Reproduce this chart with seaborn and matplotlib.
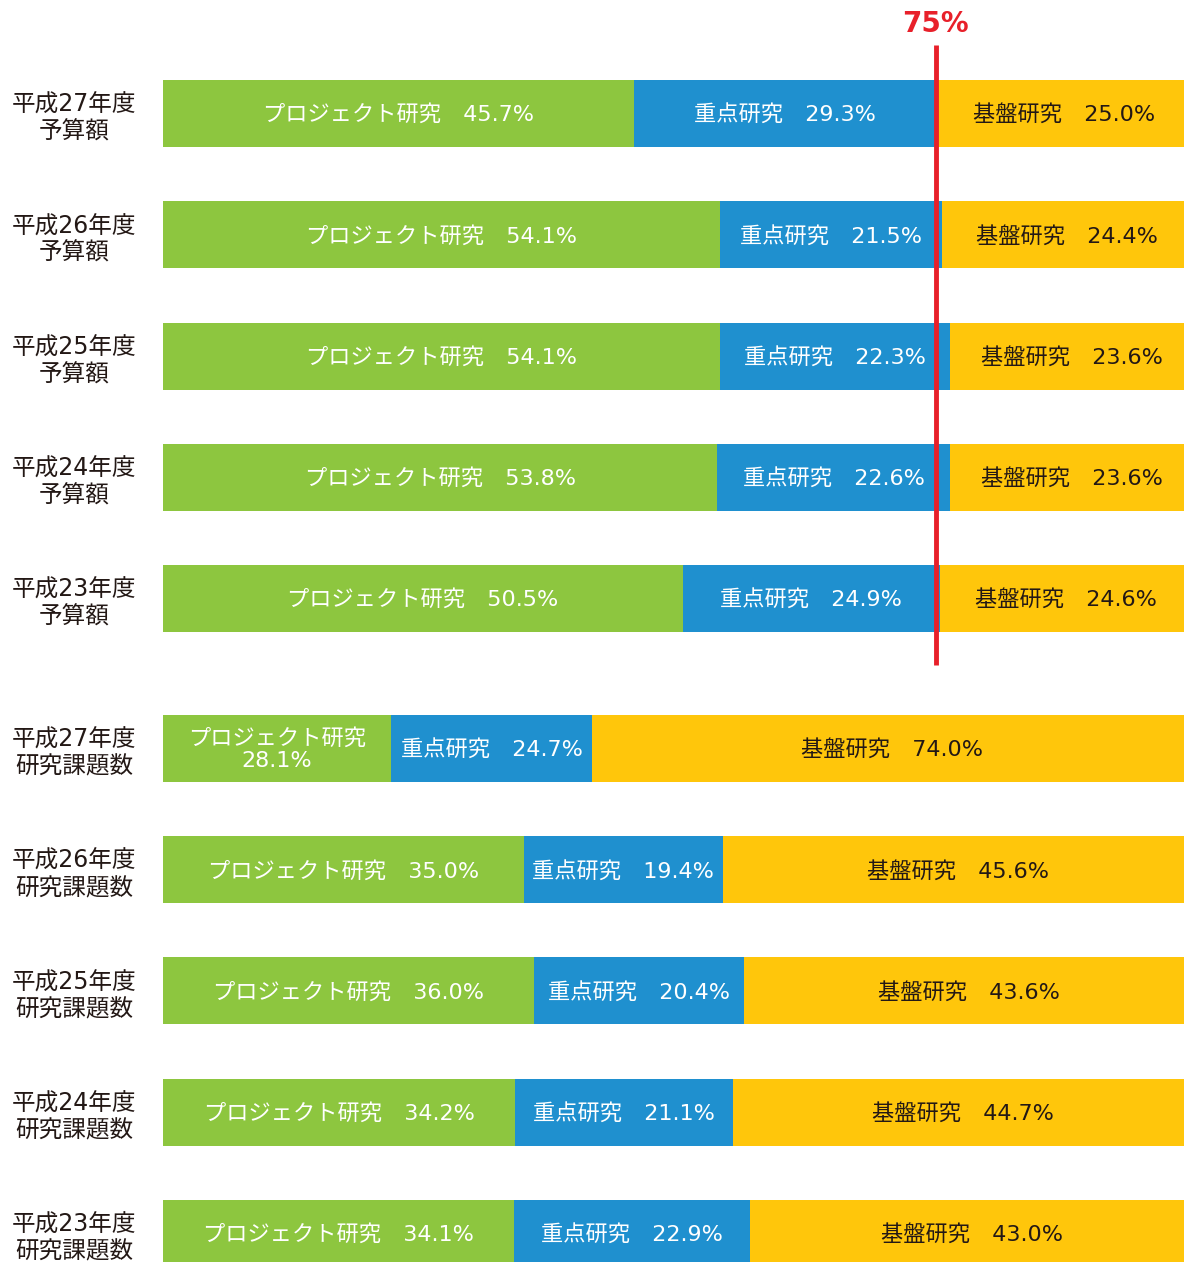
import numpy as np
import pandas as pd
import matplotlib
matplotlib.use("Agg")
import matplotlib.pyplot as plt
import matplotlib.transforms as mtransforms
import seaborn as sns

# ---- data ----
row_labels = [
    "平成27年度\n予算額", "平成26年度\n予算額", "平成25年度\n予算額",
    "平成24年度\n予算額", "平成23年度\n予算額",
    "平成27年度\n研究課題数", "平成26年度\n研究課題数", "平成25年度\n研究課題数",
    "平成24年度\n研究課題数", "平成23年度\n研究課題数",
]
series_names = ["プロジェクト研究", "重点研究", "基盤研究"]
project = [45.7, 54.1, 54.1, 53.8, 50.5, 28.1, 35.0, 36.0, 34.2, 34.1]
priority = [29.3, 21.5, 22.3, 22.6, 24.9, 24.7, 19.4, 20.4, 21.1, 22.9]
basic = [25.0, 24.4, 23.6, 23.6, 24.6, 74.0, 45.6, 43.6, 44.7, 43.0]
threshold = 75

# ---- style ----
sns.set_theme(style="white")
# Latin glyphs from DejaVu (wide digits), Japanese glyphs from Noto Sans CJK
fonts = ["DejaVu Sans", "Noto Sans CJK JP"]
plt.rcParams["font.family"] = fonts

colors = ["#8DC63F", "#1F90CF", "#FFC60B"]
text_colors = ["white", "white", "#231815"]
label_color = "#231815"
red = "#E8202A"

# row positions: two groups of five, with a wider gap between groups
gap = 1.237
ypos = [0, 1, 2, 3, 4] + [4 + gap + i for i in range(5)]

vals = np.array([project, priority, basic], dtype=float)
totals = vals.sum(axis=0)
shares = vals / totals * 100
cum = np.cumsum(shares, axis=0)

df = pd.DataFrame({
    "y": ypos,
    "c1": cum[0],
    "c2": cum[1],
    "c3": cum[2],
})

W, H = 1184, 1262
fig = plt.figure(figsize=(W / 100, H / 100), dpi=100)
left_px, width_px = 163, 1030
ax = fig.add_axes([left_px / W, 0, width_px / W, 1])

bar_h = 67 / 121.25
for col, color in zip(["c3", "c2", "c1"], colors[::-1]):
    sns.barplot(data=df, x=col, y="y", orient="y", native_scale=True,
                color=color, width=bar_h, errorbar=None, ax=ax,
                saturation=1, linewidth=0)

ax.set_xlim(0, 100)
unit = 121.25
ax.set_ylim((H - 113.5) / unit, -113.5 / unit)
ax.axis("off")

# segment labels
starts = np.vstack([np.zeros(len(ypos)), cum[:-1]])
for s in range(3):
    for i, y in enumerate(ypos):
        a, b = starts[s, i], cum[s, i]
        val = vals[s, i]
        if s == 0 and shares[s, i] < 25:
            txt = f"{series_names[s]}\n{val:.1f}%"
        else:
            txt = f"{series_names[s]}\u3000{val:.1f}%"
        ax.text((a + b) / 2, y + 0.01, txt, ha="center", va="center",
                color=text_colors[s], fontsize=16, linespacing=1.15)

# row labels on the left
trans = mtransforms.blended_transform_factory(fig.transFigure, ax.transData)
for y, lab in zip(ypos, row_labels):
    ax.text(74 / W, y + 0.04, lab, transform=trans, ha="center", va="center",
            color=label_color, fontsize=17, linespacing=1.15)

# 75% reference line across the budget rows
y0 = (45 - 113.5) / unit
y1 = (665 - 113.5) / unit
ax.plot([threshold, threshold], [y0, y1], color=red, lw=3.5,
        solid_capstyle="butt", zorder=5)
ax.text(threshold, (24 - 113.5) / unit, f"{threshold}%", ha="center",
        va="center", color=red, fontsize=20, fontweight="bold")

fig.savefig("out.png", dpi=100)
